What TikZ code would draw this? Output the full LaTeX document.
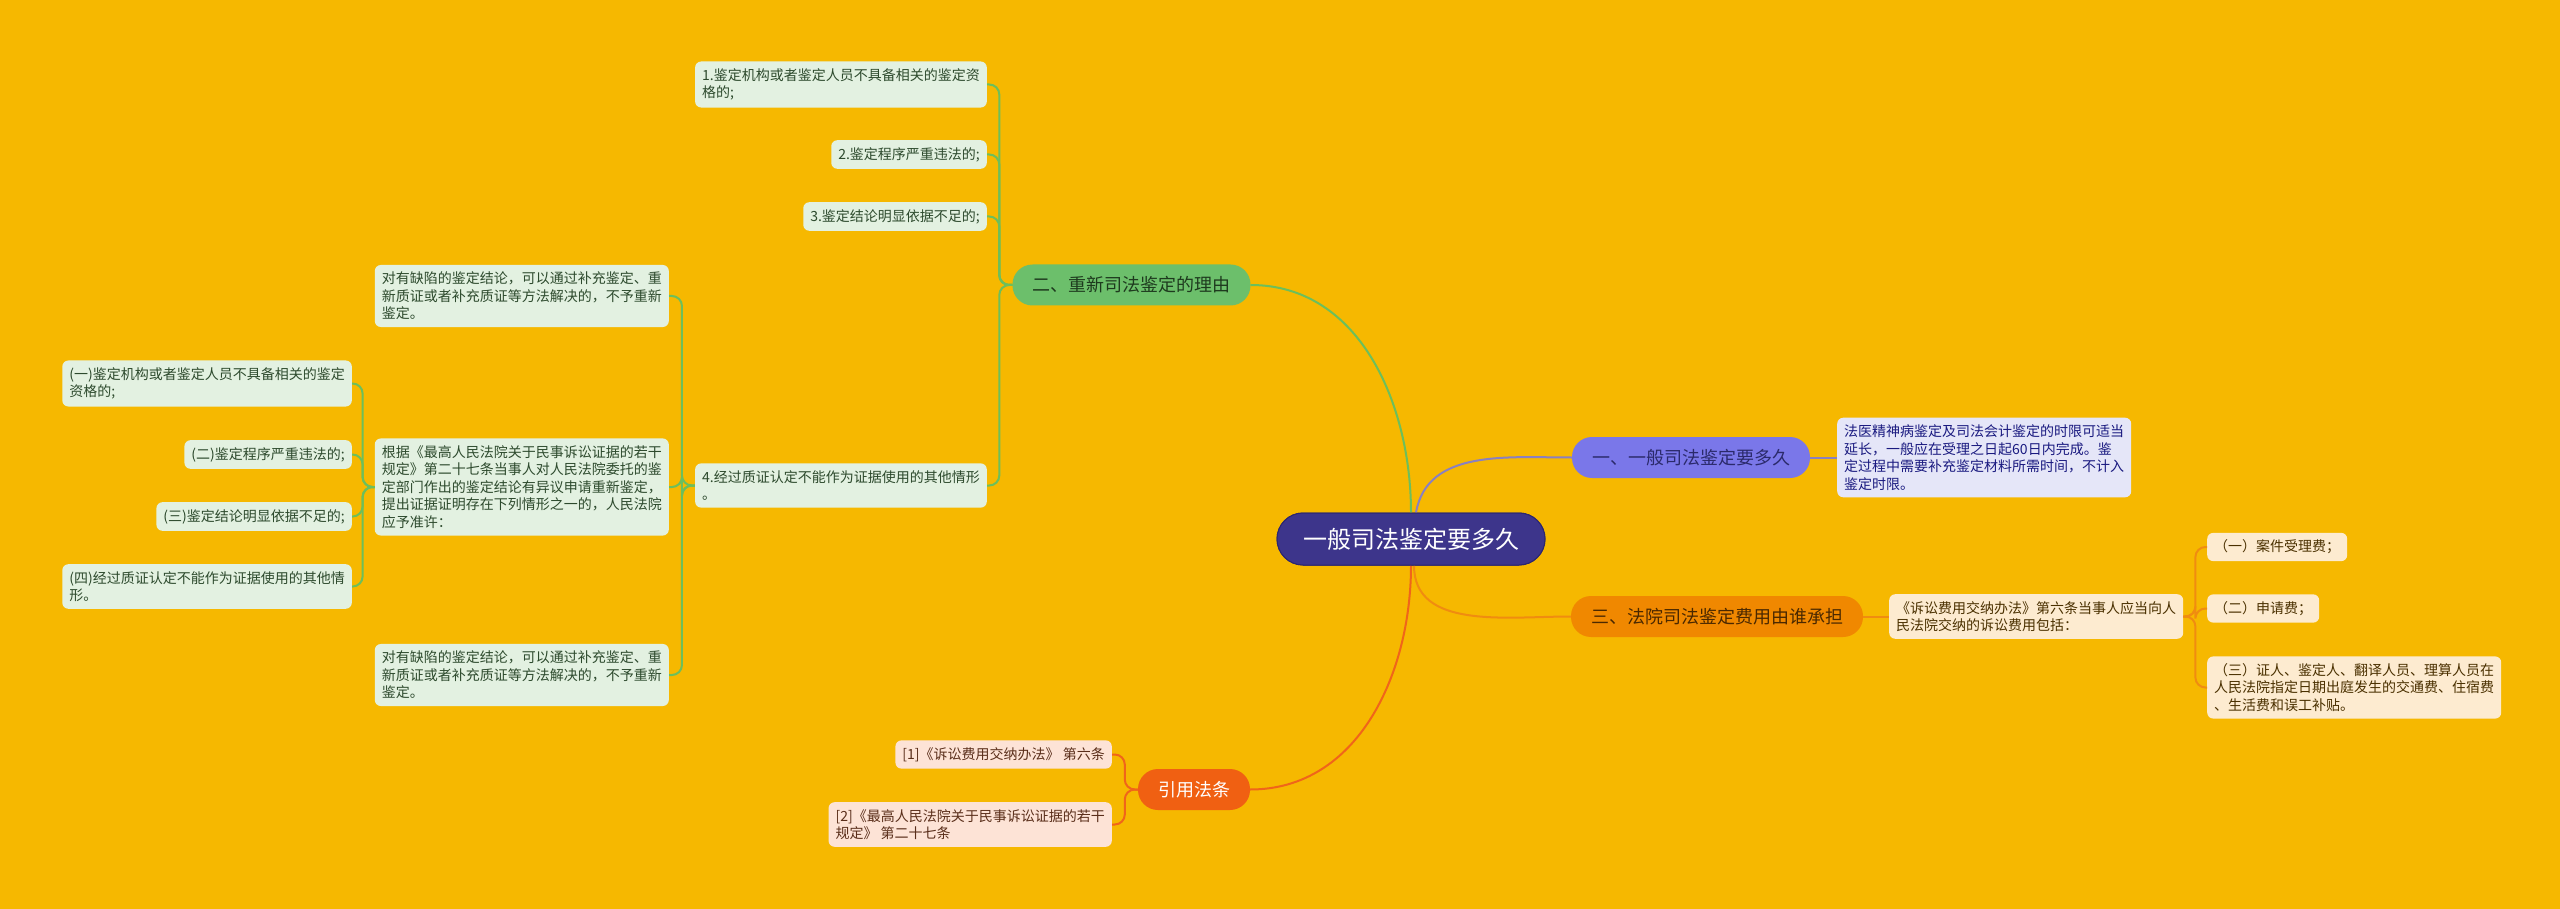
\documentclass[tikz,border=0pt]{standalone}
\usepackage{fontspec}
\setmainfont{Noto Sans CJK SC}
\definecolor{bg}{HTML}{F6B800}
\definecolor{cfill}{HTML}{3D358B}
\definecolor{cborder}{HTML}{2C2670}
\definecolor{pfill}{HTML}{7A77E9}
\definecolor{ptext}{HTML}{2B2A6B}
\definecolor{pline}{HTML}{8A80C0}
\definecolor{lfill}{HTML}{E5E6F8}
\definecolor{ltext}{HTML}{1A1A80}
\definecolor{gfill}{HTML}{6CBF6B}
\definecolor{gtext}{HTML}{1E3A1E}
\definecolor{gline}{HTML}{6CBF5C}
\definecolor{gbfill}{HTML}{E3F1E1}
\definecolor{gbtext}{HTML}{2D4A2D}
\definecolor{ofill}{HTML}{F08800}
\definecolor{otext}{HTML}{4A2800}
\definecolor{oline}{HTML}{F08C10}
\definecolor{obfill}{HTML}{FDEBD0}
\definecolor{obtext}{HTML}{4A3000}
\definecolor{rfill}{HTML}{F06012}
\definecolor{rline}{HTML}{F0651A}
\definecolor{rbfill}{HTML}{FDE3D6}
\definecolor{rbtext}{HTML}{5A2E1A}
\newcommand\myfs{\fontsize{14}{17.5}\selectfont}
\tikzset{
  pill/.style={rounded corners=20pt, minimum height=41pt, inner xsep=20pt, inner ysep=0pt, font=\fontsize{18}{22}\selectfont},
  leaf/.style={rounded corners=6pt, inner xsep=7pt, inner ysep=7pt, align=left, font=\myfs},
  gleaf/.style={leaf, fill=gbfill, text=gbtext},
  oleaf/.style={leaf, fill=obfill, text=obtext},
  rleaf/.style={leaf, fill=rbfill, text=rbtext},
  lleaf/.style={leaf, fill=lfill, text=ltext},
  conn/.style={line width=2pt},
  elbow/.style={conn, rounded corners=10pt},
}
\begin{document}
\begin{tikzpicture}[x=1pt,y=-1pt]
\useasboundingbox[fill=bg] (0,0) rectangle (2560,909);

% central
\node[fill=cfill, draw=cborder, line width=1pt, text=white, rounded corners=26pt, minimum width=268pt, minimum height=52pt, font=\fontsize{24}{28}\selectfont] (c) at (1411,539) {一般司法鉴定要多久};

% main branches
\node[pill, fill=gfill, text=gtext] (b2) at (1131.5,285) {二、重新司法鉴定的理由};
\node[pill, fill=pfill, text=ptext] (b1) at (1691,457.5) {一、一般司法鉴定要多久};
\node[pill, fill=ofill, text=otext] (b3) at (1717,616.5) {三、法院司法鉴定费用由谁承担};
\node[pill, fill=rfill, text=white] (b4) at (1194,789.5) {引用法条};

% branch 1 child
\node[lleaf, anchor=west] (l1) at (1837,457.5) {法医精神病鉴定及司法会计鉴定的时限可适当\\延长，一般应在受理之日起60日内完成。鉴\\定过程中需要补充鉴定材料所需时间，不计入\\鉴定时限。};

% branch 2 children
\node[gleaf, anchor=east] (g1) at (987,84.5) {1.鉴定机构或者鉴定人员不具备相关的鉴定资\\格的;};
\node[gleaf, anchor=east] (g2) at (987,154.5) {2.鉴定程序严重违法的;};
\node[gleaf, anchor=east] (g3) at (987,216.5) {3.鉴定结论明显依据不足的;};
\node[gleaf, anchor=east] (g4) at (987,485.5) {4.经过质证认定不能作为证据使用的其他情形\\。};

\node[gleaf, anchor=east] (ga) at (669,296) {对有缺陷的鉴定结论，可以通过补充鉴定、重\\新质证或者补充质证等方法解决的，不予重新\\鉴定。};
\node[gleaf, anchor=east] (gb) at (669,487) {根据《最高人民法院关于民事诉讼证据的若干\\规定》第二十七条当事人对人民法院委托的鉴\\定部门作出的鉴定结论有异议申请重新鉴定，\\提出证据证明存在下列情形之一的，人民法院\\应予准许：};
\node[gleaf, anchor=east] (gc) at (669,675) {对有缺陷的鉴定结论，可以通过补充鉴定、重\\新质证或者补充质证等方法解决的，不予重新\\鉴定。};

\node[gleaf, anchor=east] (gi) at (352,383.5) {(一)鉴定机构或者鉴定人员不具备相关的鉴定\\资格的;};
\node[gleaf, anchor=east] (gii) at (352,454.5) {(二)鉴定程序严重违法的;};
\node[gleaf, anchor=east] (giii) at (352,516.5) {(三)鉴定结论明显依据不足的;};
\node[gleaf, anchor=east] (giv) at (352,586.5) {(四)经过质证认定不能作为证据使用的其他情\\形。};

% branch 3 children
\node[oleaf, anchor=west] (o1) at (1889,616.5) {《诉讼费用交纳办法》第六条当事人应当向人\\民法院交纳的诉讼费用包括：};
\node[oleaf, anchor=west] (oc1) at (2207,547) {（一）案件受理费；};
\node[oleaf, anchor=west] (oc2) at (2207,608.5) {（二）申请费；};
\node[oleaf, anchor=west] (oc3) at (2207,687.5) {（三）证人、鉴定人、翻译人员、理算人员在\\人民法院指定日期出庭发生的交通费、住宿费\\、生活费和误工补贴。};

% branch 4 children
\node[rleaf, anchor=east] (r1) at (1112,754.5) {[1]《诉讼费用交纳办法》 第六条};
\node[rleaf, anchor=east] (r2) at (1112,824.5) {[2]《最高人民法院关于民事诉讼证据的若干\\规定》 第二十七条};

% connectors from central
\begin{scope}[on background layer/.style={}]
\draw[conn, gline] (c.north) to[out=90,in=0] (b2.east);
\draw[conn, pline] ([xshift=5pt]c.north) to[out=80,in=180] (b1.west);
\draw[conn, oline] ([xshift=3pt]c.south) to[out=-90,in=180] (b3.west);
\draw[conn, rline] (c.south) to[out=-90,in=0] (b4.east);
\end{scope}

\draw[conn, pline] (b1.east) -- (l1.west);
\draw[conn, oline] (b3.east) -- (o1.west);

% elbows
\foreach \n in {g1,g2,g3,g4}
  \draw[elbow, gline] (b2.west) -- ++(-13,0) |- (\n.east);
\foreach \n in {ga,gb,gc}
  \draw[elbow, gline] (g4.west) -- ++(-13,0) |- (\n.east);
\foreach \n in {gi,gii,giii,giv}
  \draw[elbow, gline] (gb.west) -- ++(-12,0) |- (\n.east);
\foreach \n in {oc1,oc2,oc3}
  \draw[elbow, oline] (o1.east) -- ++(12,0) |- (\n.west);
\foreach \n in {r1,r2}
  \draw[elbow, rline] (b4.west) -- ++(-13,0) |- (\n.east);

% redraw nodes over connectors
\node[fill=cfill, draw=cborder, line width=1pt, text=white, rounded corners=26pt, minimum width=268pt, minimum height=52pt, font=\fontsize{24}{28}\selectfont] at (1411,539) {一般司法鉴定要多久};
\end{tikzpicture}
\end{document}
